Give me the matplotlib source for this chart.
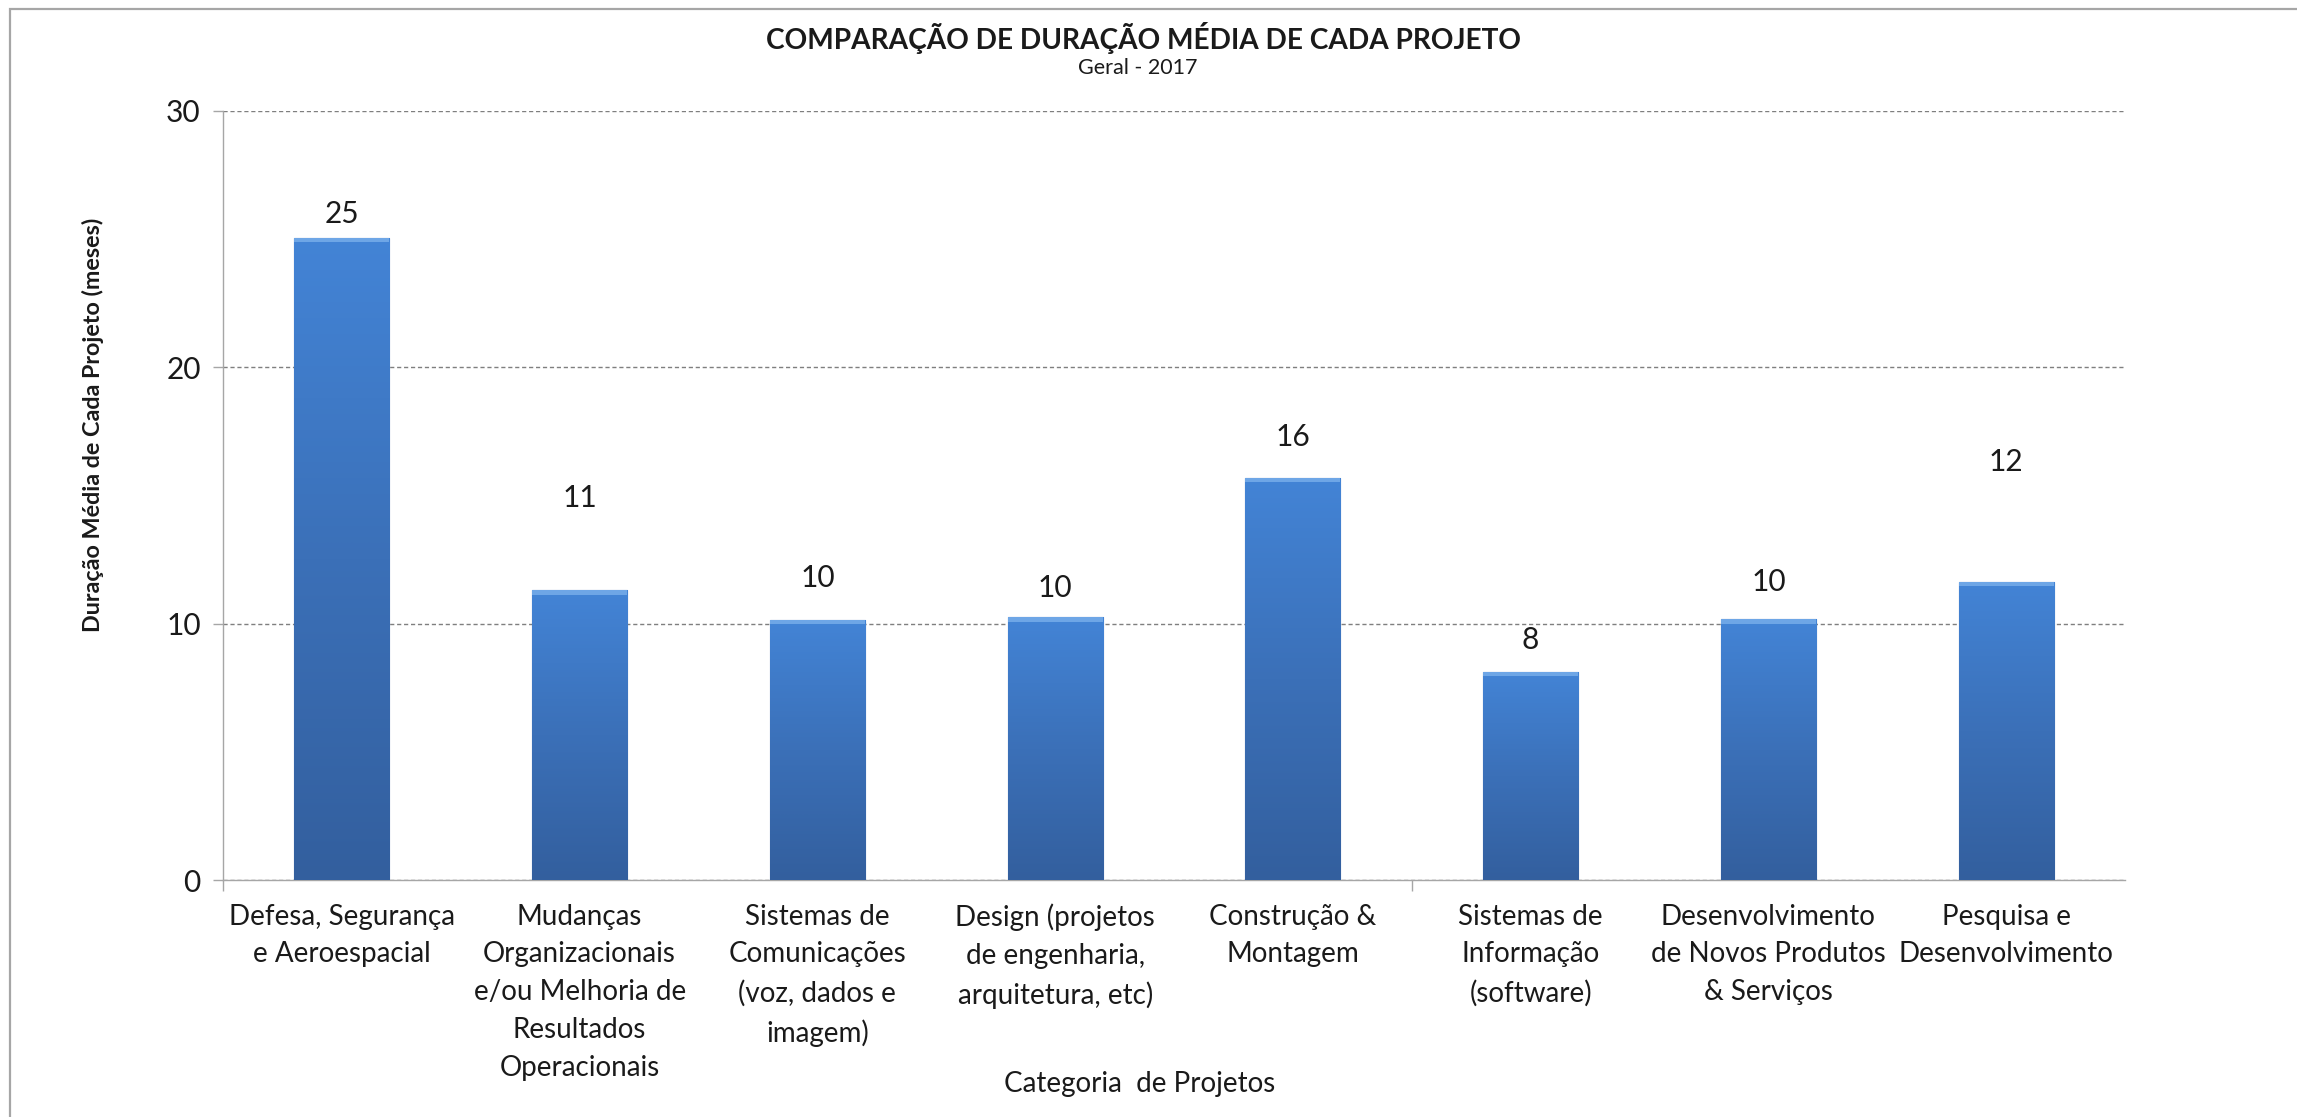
import matplotlib
matplotlib.use("Agg")
import matplotlib.pyplot as plt
import numpy as np
from matplotlib.patches import Rectangle
from matplotlib.colors import LinearSegmentedColormap

categories = [
    "Defesa, Segurança\ne Aeroespacial",
    "Mudanças\nOrganizacionais\ne/ou Melhoria de\nResultados\nOperacionais",
    "Sistemas de\nComunicações\n(voz, dados e\nimagem)",
    "Design (projetos\nde engenharia,\narquitetura, etc)",
    "Construção &\nMontagem",
    "Sistemas de\nInformação\n(software)",
    "Desenvolvimento\nde Novos Produtos\n& Serviços",
    "Pesquisa e\nDesenvolvimento",
]
values = [25.05, 11.3, 10.15, 10.25, 15.7, 8.13, 10.17, 11.64]
value_labels = ["25", "11", "10", "10", "16", "8", "10", "12"]
yticks = [0, 10, 20, 30]

# label offsets above bar top, in pixels (manual label placement in source)
label_offsets_px = [24, 92, 42, 29, 41, 32, 37, 120]

W, H, DPI = 2297, 1117, 100
plt.rcParams['font.family'] = ['Lato', 'DejaVu Sans']

fig = plt.figure(figsize=(W / DPI, H / DPI), dpi=DPI)
fig.patch.set_facecolor('white')

# outer chart frame
fig.patches.append(Rectangle((10 / W, -0.05), 1.2, (1 - 9 / H) + 0.05,
                             transform=fig.transFigure, fill=False,
                             edgecolor='#a6a6a6', linewidth=1.6))

ax = fig.add_axes([223 / W, 1 - 880 / H, (2125 - 223) / W, (880 - 111) / H])
x = np.arange(len(categories))
bars = ax.bar(x, values, width=0.40, color='#3a74c0', edgecolor='#2d5a94',
              linewidth=0.8, zorder=3)

cmap = LinearSegmentedColormap.from_list('g', ['#335f9e', '#3b70b8', '#4384d6'])
grad = np.linspace(0, 1, 256).reshape(-1, 1)
for b in bars:
    x0, y0 = b.get_x(), b.get_y()
    w, h = b.get_width(), b.get_height()
    im = ax.imshow(grad, cmap=cmap, origin='lower', aspect='auto',
                   extent=[x0, x0 + w, y0, y0 + h], zorder=3.5,
                   interpolation='bicubic')
    im.set_clip_path(b)
    # top bevel highlight
    ax.add_patch(Rectangle((x0, y0 + h - 0.17), w, 0.17, facecolor='#6ea6e6',
                           edgecolor='none', zorder=3.6))

for b, lab, off in zip(bars, value_labels, label_offsets_px):
    ax.annotate(lab, (b.get_x() + b.get_width() / 2, b.get_height()),
                xytext=(0, off * 72 / DPI), textcoords='offset points',
                ha='center', va='center', fontsize=21.5, color='#1a1a1a', zorder=5)

ax.set_xlim(-0.5, len(categories) - 0.5)
ax.set_ylim(0, 30)
ax.set_yticks(yticks)
ax.set_yticklabels([str(v) for v in yticks], fontsize=21.5, color='#1a1a1a')
ax.yaxis.grid(True, linestyle=(0, (3, 2)), color='#7f7f7f', linewidth=1.0, zorder=0)
ax.set_axisbelow(True)
ax.tick_params(axis='y', length=7, width=1, color='#a6a6a6', pad=9)

ax.set_xticks(x)
ax.set_xticklabels(categories, fontsize=20, color='#1a1a1a', linespacing=1.56)
ax.tick_params(axis='x', length=0, pad=17)
ax.set_xticks([-0.5, 4.5], minor=True)
ax.tick_params(axis='x', which='minor', length=8, width=1, color='#a6a6a6')

for s in ['top', 'right']:
    ax.spines[s].set_visible(False)
for s in ['left', 'bottom']:
    ax.spines[s].set_color('#a6a6a6')
    ax.spines[s].set_linewidth(1.0)

ax.set_xlabel("Categoria  de Projetos", fontsize=20, color='#1a1a1a', va='center')
ax.xaxis.set_label_coords((1140 - 223) / (2125 - 223), -(1084 - 880) / (880 - 111))
ax.set_ylabel("Duração Média de Cada Projeto (meses)", fontsize=16.8,
              fontweight='bold', color='#1a1a1a', va='center', ha='center')
ax.yaxis.set_label_coords(-(223 - 93) / (2125 - 223), (880 - 425) / (880 - 111))

fig.text(1144 / W, 1 - 38 / H, "COMPARAÇÃO DE DURAÇÃO MÉDIA DE CADA PROJETO",
         ha='center', va='center', fontsize=20.2, fontweight='bold', color='#1a1a1a')
fig.text(1138 / W, 1 - 68 / H, "Geral - 2017", ha='center', va='center',
         fontsize=15.5, color='#1a1a1a')

fig.savefig("out.png", dpi=DPI)
